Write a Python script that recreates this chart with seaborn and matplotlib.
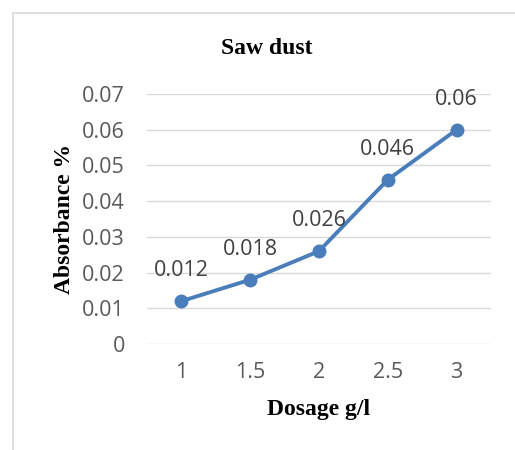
import matplotlib
matplotlib.use("Agg")
import matplotlib.pyplot as plt
import seaborn as sns
import pandas as pd
from matplotlib.patches import Rectangle

dosage = ["1", "1.5", "2", "2.5", "3"]
absorbance = [0.012, 0.018, 0.026, 0.046, 0.06]
labels = ["0.012", "0.018", "0.026", "0.046", "0.06"]
yticks = [0, 0.01, 0.02, 0.03, 0.04, 0.05, 0.06, 0.07]
ytick_labels = ["0", "0.01", "0.02", "0.03", "0.04", "0.05", "0.06", "0.07"]

sns.set_theme(style="white")
plt.rcParams['font.family'] = ['Open Sans', 'DejaVu Sans']

df = pd.DataFrame({"Dosage": dosage, "Absorbance": absorbance})

fig = plt.figure(figsize=(5.15, 4.5), dpi=100)
ax = fig.add_axes([147/515, 1-344/450, (491-147)/515, (344-94)/450])

fig.patches.append(Rectangle((13/515, -0.1), 1.2, 1 - 13/450 + 0.1, transform=fig.transFigure,
                             fill=False, edgecolor="#d9d9d9", linewidth=1.2, zorder=0))

color = "#4A7EBB"
sns.pointplot(data=df, x="Dosage", y="Absorbance", ax=ax, color=color,
              markers="o", linestyles="-", errorbar=None)
for l in ax.lines:
    l.set_linewidth(2.8)
    l.set_markersize(8)
for c in ax.collections:
    c.set_sizes([80])

ax.set_ylim(0, 0.07)
ax.set_xlim(-0.5, 4.5)
ax.set_yticks(yticks)
ax.set_yticklabels(ytick_labels)
ax.grid(axis="y", color="#d9d9d9", linewidth=1)
ax.set_axisbelow(True)
for s in ax.spines.values():
    s.set_visible(False)
ax.tick_params(axis="both", length=0, labelsize=15.5, labelcolor="#595959")
ax.tick_params(axis="y", pad=16)
ax.tick_params(axis="x", pad=13)

for i, (v, t) in enumerate(zip(absorbance, labels)):
    ax.annotate(t, xy=(i, v), xytext=(0, 22), textcoords="offset points",
                ha="center", va="center", fontsize=15.5, color="#404040")

ax.set_xlabel("")
ax.set_ylabel("")
fig.text(319/515, 1-410/450, "Dosage g/l", ha="center", va="center", fontsize=17,
         fontweight="bold", family="Liberation Serif", color="black")
fig.text(64/515, 1-219/450, "Absorbance %", ha="center", va="center", fontsize=17,
         rotation=90, fontweight="bold", family="Liberation Serif", color="black")
fig.text(267/515, 1-49/450, "Saw dust", ha="center", va="center", fontsize=17,
         fontweight="bold", family="Liberation Serif", color="black")

fig.savefig("out.png", dpi=100)
